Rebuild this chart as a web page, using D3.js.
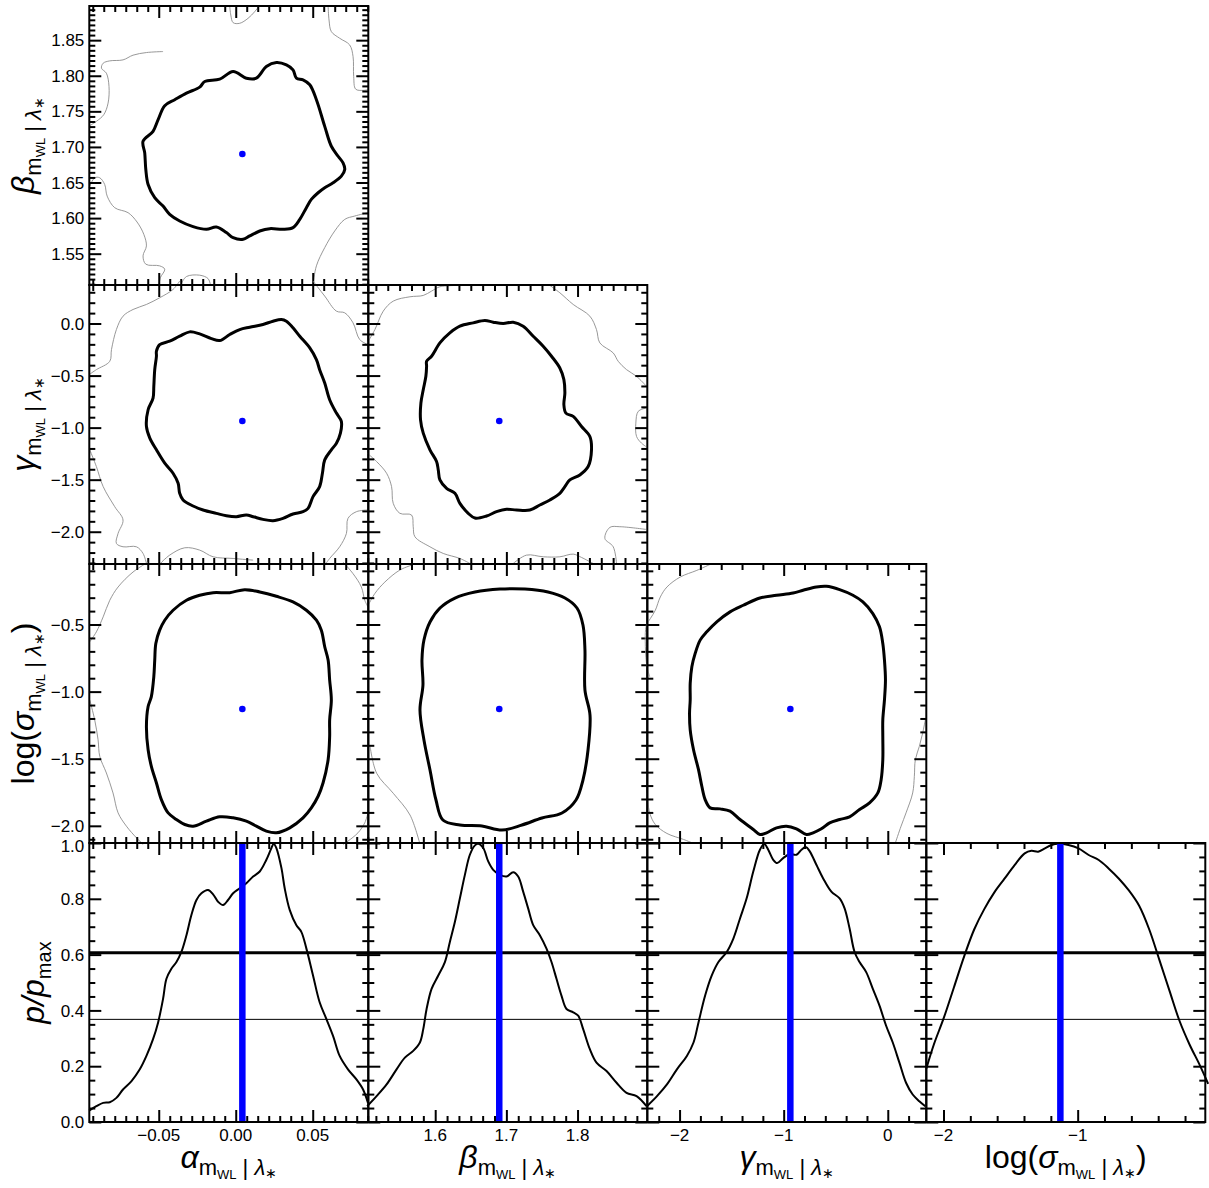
<!DOCTYPE html>
<html>
<head>
<meta charset="utf-8">
<script src="https://cdn.jsdelivr.net/npm/d3@7/dist/d3.min.js"></script>
<style>
html,body{margin:0;padding:0;background:#fff;}
svg{display:block;}
text{font-family:"Liberation Sans",Arial,Helvetica,sans-serif;white-space:pre;}
</style>
</head>
<body>
<svg id="chart" width="1209" height="1188"></svg>
<script>
// ---------------- data ----------------
const paramGreek = ["α", "β", "γ", "σ"];
const domainAlpha = [-0.0951, 0.0861];
const domainBeta = [1.506, 1.898];
const domainGamma = [-2.31, 0.37];
const domainLogSigma = [-2.128, -0.049];
const domainP = [0, 1];

const truthValues = [0.0043, 1.690, -0.936, -1.129];
const levelThick = Math.exp(-0.5);
const levelThin = Math.exp(-1);

const ticksAlphaX = [-0.05, 0, 0.05];
const labelsAlphaX = ["−0.05", "0.00", "0.05"];
const ticksBetaX = [1.6, 1.7, 1.8];
const labelsBetaX = ["1.6", "1.7", "1.8"];
const ticksBetaY = [1.55, 1.60, 1.65, 1.70, 1.75, 1.80, 1.85];
const labelsBetaY = ["1.55", "1.60", "1.65", "1.70", "1.75", "1.80", "1.85"];
const ticksGammaX = [-2, -1, 0];
const labelsGammaX = ["−2", "−1", "0"];
const ticksGammaY = [-2, -1.5, -1, -0.5, 0];
const labelsGammaY = ["−2.0", "−1.5", "−1.0", "−0.5", "0.0"];
const ticksLogSigmaX = [-2, -1];
const labelsLogSigmaX = ["−2", "−1"];
const ticksLogSigmaY = [-2, -1.5, -1, -0.5];
const labelsLogSigmaY = ["−2.0", "−1.5", "−1.0", "−0.5"];
const ticksP = [0, 0.2, 0.4, 0.6, 0.8, 1.0];
const labelsP = ["0.0", "0.2", "0.4", "0.6", "0.8", "1.0"];

// minor tick spacing per axis
const minorAlphaX = 0.05 / 7;
const minorBetaX = 0.1 / 6;
const minorBetaY = 0.05 / 7;
const minorGammaX = 0.2;
const minorGammaY = 0.1;
const minorLogSigmaX = 0.2;
const minorLogSigmaY = 0.1;
const minorP = 0.05;

// 2D contours (thick: main level, gray: outer level pieces)
const contourAlphaBeta = [[-0.0602,1.7079],[-0.0537,1.7219],[-0.0504,1.7383],[-0.0461,1.7579],[-0.0396,1.7663],[-0.0320,1.7756],[-0.0234,1.7840],[-0.0201,1.7920],[-0.0104,1.7952],[-0.0017,1.8060],[0.0069,1.7966],[0.0134,1.7966],[0.0199,1.8130],[0.0264,1.8186],[0.0329,1.8153],[0.0372,1.8083],[0.0394,1.7966],[0.0437,1.7943],[0.0481,1.7873],[0.0524,1.7663],[0.0578,1.7289],[0.0621,1.7009],[0.0665,1.6869],[0.0697,1.6776],[0.0708,1.6683],[0.0686,1.6589],[0.0632,1.6496],[0.0578,1.6426],[0.0535,1.6356],[0.0491,1.6262],[0.0459,1.6146],[0.0416,1.5982],[0.0372,1.5866],[0.0307,1.5842],[0.0221,1.5852],[0.0156,1.5819],[0.0091,1.5749],[0.0048,1.5702],[-0.0017,1.5725],[-0.0061,1.5796],[-0.0126,1.5875],[-0.0190,1.5842],[-0.0277,1.5880],[-0.0364,1.5959],[-0.0429,1.6052],[-0.0472,1.6169],[-0.0526,1.6286],[-0.0569,1.6472],[-0.0584,1.6683],[-0.0591,1.6916]];
const grayAlphaBeta = [
  [[-0.0948,1.7299],[-0.0905,1.7359],[-0.0857,1.7453],[-0.0829,1.7616],[-0.0823,1.7850],[-0.0840,1.8036],[-0.0872,1.8106],[-0.0861,1.8176],[-0.0818,1.8209],[-0.0732,1.8223],[-0.0667,1.8289],[-0.0580,1.8326],[-0.0472,1.8340]],
  [[-0.0039,1.8979],[-0.0032,1.8853],[-0.0017,1.8746],[0.0026,1.8737],[0.0080,1.8807],[0.0123,1.8900],[0.0152,1.8979]],
  [[0.0600,1.8979],[0.0606,1.8783],[0.0621,1.8620],[0.0675,1.8527],[0.0740,1.8433],[0.0762,1.8270],[0.0766,1.7990],[0.0779,1.7812],[0.0827,1.7794],[0.0859,1.7803]],
  [[-0.0952,1.6426],[-0.0916,1.6566],[-0.0883,1.6566],[-0.0851,1.6472],[-0.0835,1.6309],[-0.0786,1.6146],[-0.0699,1.6076],[-0.0641,1.5945],[-0.0597,1.5772],[-0.0580,1.5609],[-0.0602,1.5469],[-0.0584,1.5352],[-0.0494,1.5329],[-0.0461,1.5282],[-0.0489,1.5165],[-0.0498,1.5072]],
  [[0.0502,1.5072],[0.0524,1.5329],[0.0578,1.5585],[0.0643,1.5819],[0.0708,1.5982],[0.0773,1.6029],[0.0859,1.6076]],
  [[-0.0353,1.5081],[-0.0320,1.5179],[-0.0234,1.5198],[-0.0180,1.5151],[-0.0165,1.5072]]
];

const contourAlphaGamma = [[-0.0515,-0.2665],[-0.0494,-0.2022],[-0.0429,-0.1701],[-0.0364,-0.1220],[-0.0299,-0.0803],[-0.0234,-0.0995],[-0.0158,-0.1445],[-0.0104,-0.1637],[-0.0039,-0.1059],[0.0026,-0.0578],[0.0091,-0.0353],[0.0177,-0.0096],[0.0242,0.0225],[0.0297,0.0385],[0.0329,0.0225],[0.0372,-0.0417],[0.0416,-0.1220],[0.0481,-0.2343],[0.0524,-0.3467],[0.0545,-0.4430],[0.0578,-0.5714],[0.0610,-0.7319],[0.0654,-0.8604],[0.0686,-0.9406],[0.0680,-1.0530],[0.0654,-1.1493],[0.0621,-1.2135],[0.0578,-1.3098],[0.0563,-1.4382],[0.0545,-1.5666],[0.0502,-1.6629],[0.0470,-1.7753],[0.0437,-1.8074],[0.0372,-1.8299],[0.0307,-1.8716],[0.0242,-1.8941],[0.0177,-1.8812],[0.0113,-1.8555],[0.0069,-1.8395],[0.0004,-1.8555],[-0.0061,-1.8459],[-0.0126,-1.8234],[-0.0212,-1.7913],[-0.0277,-1.7528],[-0.0342,-1.6950],[-0.0364,-1.6308],[-0.0374,-1.5345],[-0.0407,-1.4382],[-0.0461,-1.3419],[-0.0515,-1.2135],[-0.0558,-1.1011],[-0.0580,-0.9888],[-0.0569,-0.8283],[-0.0537,-0.7159],[-0.0532,-0.6035],[-0.0526,-0.4430],[-0.0515,-0.3146]];
const grayAlphaGamma = [
  [[-0.0364,0.4077],[-0.0407,0.3274],[-0.0494,0.2472],[-0.0580,0.1830],[-0.0667,0.1348],[-0.0732,0.0706],[-0.0775,-0.0578],[-0.0807,-0.2504],[-0.0818,-0.3628],[-0.0905,-0.4430],[-0.0952,-0.4912]],
  [[0.0502,0.4077],[0.0578,0.2632],[0.0654,0.1188],[0.0708,0.1027],[0.0762,0.0064],[0.0805,-0.1541],[0.0859,-0.2022]],
  [[-0.0948,-1.2135],[-0.0905,-1.3740],[-0.0861,-1.5666],[-0.0786,-1.7592],[-0.0732,-1.8876],[-0.0764,-2.0161],[-0.0775,-2.1124],[-0.0732,-2.1445],[-0.0645,-2.1445],[-0.0602,-2.2087],[-0.0580,-2.3050]],
  [[-0.0494,-2.3114],[-0.0429,-2.2247],[-0.0331,-2.1541],[-0.0234,-2.1766],[-0.0147,-2.2408],[-0.0017,-2.2568],[0.0113,-2.2729]],
  [[0.0859,-1.7913],[0.0784,-1.8074],[0.0729,-1.8716],[0.0719,-2.0161],[0.0675,-2.1445],[0.0610,-2.2568],[0.0578,-2.3210]]
];

const contourBetaGamma = [[1.5879,-0.3628],[1.5949,-0.3146],[1.6066,-0.1862],[1.6206,-0.0899],[1.6347,-0.0257],[1.6534,0.0064],[1.6698,0.0289],[1.6815,0.0128],[1.6956,0.0],[1.7096,0.0128],[1.7236,-0.0257],[1.7377,-0.1220],[1.7517,-0.2183],[1.7634,-0.3146],[1.7751,-0.4270],[1.7808,-0.5393],[1.7822,-0.6677],[1.7808,-0.7801],[1.7836,-0.8604],[1.7939,-0.8925],[1.8056,-0.9888],[1.8173,-1.0851],[1.8196,-1.2135],[1.8149,-1.3740],[1.8032,-1.4543],[1.7892,-1.5024],[1.7822,-1.5666],[1.7751,-1.6308],[1.7611,-1.6950],[1.7470,-1.7432],[1.7330,-1.7913],[1.7143,-1.7913],[1.7002,-1.7849],[1.6862,-1.8074],[1.6721,-1.8491],[1.6558,-1.8684],[1.6464,-1.8234],[1.6347,-1.7271],[1.6277,-1.6308],[1.6160,-1.5827],[1.6066,-1.5024],[1.6043,-1.4061],[1.6019,-1.3258],[1.5926,-1.2135],[1.5832,-1.0530],[1.5794,-0.9246],[1.5799,-0.7640],[1.5832,-0.6356],[1.5869,-0.5072],[1.5879,-0.4109]];
const grayBetaGamma = [
  [[1.5045,-0.1862],[1.5153,-0.0578],[1.5270,0.1188],[1.5410,0.2151],[1.5645,0.2568],[1.5832,0.2697],[1.5949,0.3114],[1.6066,0.3531],[1.6441,0.3660]],
  [[1.7611,0.3660],[1.7751,0.2953],[1.7939,0.1830],[1.8173,0.0706],[1.8266,-0.0578],[1.8313,-0.1862],[1.8501,-0.2825],[1.8571,-0.3628],[1.8688,-0.4430],[1.8829,-0.5072],[1.8960,-0.5971]],
  [[1.8960,-0.8122],[1.8852,-0.8443],[1.8819,-0.9567],[1.8829,-1.0851],[1.8899,-1.1493],[1.8960,-1.1814]],
  [[1.5045,-1.2456],[1.5176,-1.3258],[1.5317,-1.4382],[1.5387,-1.5666],[1.5410,-1.7271],[1.5504,-1.8234],[1.5668,-1.8395],[1.5691,-1.9518],[1.5715,-2.0482],[1.5926,-2.1445],[1.6113,-2.2087],[1.6347,-2.2568],[1.6487,-2.3050]],
  [[1.7096,-2.3050],[1.7283,-2.2247],[1.7517,-2.2408],[1.7751,-2.2408],[1.7939,-2.2151],[1.8056,-2.2472],[1.8220,-2.3050]],
  [[1.8960,-1.9775],[1.8594,-1.9518],[1.8454,-1.9583],[1.8384,-2.0642],[1.8501,-2.1445],[1.8548,-2.3050]]
];

const contourAlphaLogSigma = [[-0.0580,-1.2599],[-0.0569,-1.1114],[-0.0548,-1.0371],[-0.0532,-0.8886],[-0.0526,-0.7649],[-0.0519,-0.6411],[-0.0494,-0.5421],[-0.0461,-0.4678],[-0.0407,-0.3936],[-0.0320,-0.3193],[-0.0234,-0.2822],[-0.0147,-0.2624],[-0.0039,-0.2624],[0.0058,-0.2401],[0.0156,-0.2574],[0.0264,-0.2896],[0.0372,-0.3317],[0.0459,-0.3936],[0.0524,-0.4678],[0.0556,-0.5421],[0.0578,-0.6658],[0.0600,-0.7649],[0.0610,-0.9134],[0.0621,-1.0619],[0.0610,-1.2104],[0.0610,-1.3342],[0.0600,-1.5074],[0.0567,-1.6807],[0.0535,-1.7797],[0.0491,-1.8663],[0.0437,-1.9406],[0.0351,-2.0149],[0.0264,-2.0520],[0.0199,-2.0396],[0.0134,-2.0025],[0.0069,-1.9653],[-0.0017,-1.9406],[-0.0104,-1.9332],[-0.0190,-1.9653],[-0.0277,-2.0025],[-0.0331,-1.9901],[-0.0385,-1.9530],[-0.0439,-1.9035],[-0.0483,-1.8045],[-0.0515,-1.6807],[-0.0548,-1.5569],[-0.0569,-1.4332]];
const grayAlphaLogSigma = [
  [[-0.0569,-0.0347],[-0.0667,-0.1089],[-0.0764,-0.2203],[-0.0818,-0.3193],[-0.0861,-0.4431],[-0.0905,-0.5545],[-0.0948,-0.6287]],
  [[-0.0948,-1.0619],[-0.0916,-1.2104],[-0.0894,-1.3589],[-0.0883,-1.4827],[-0.0840,-1.6064],[-0.0797,-1.7550],[-0.0764,-1.9035],[-0.0710,-2.0025],[-0.0645,-2.0891],[-0.0602,-2.1386]],
  [[0.0697,-0.0347],[0.0762,-0.1213],[0.0816,-0.2203],[0.0838,-0.3193],[0.0859,-0.3688]],
  [[0.0859,-1.9035],[0.0838,-1.9777],[0.0794,-2.0520],[0.0729,-2.1139],[0.0697,-2.1386]]
];

const contourBetaLogSigma = [[1.5814,-0.7645],[1.5842,-0.6155],[1.5927,-0.4814],[1.6067,-0.3770],[1.6278,-0.3025],[1.6559,-0.2578],[1.6910,-0.2355],[1.7261,-0.2355],[1.7585,-0.2578],[1.7823,-0.3025],[1.7992,-0.3770],[1.8076,-0.5037],[1.8104,-0.6900],[1.8104,-0.9881],[1.8175,-1.1744],[1.8147,-1.4352],[1.8076,-1.6587],[1.7978,-1.8077],[1.7781,-1.9046],[1.7500,-1.9419],[1.7219,-1.9940],[1.6938,-2.0313],[1.6656,-2.0015],[1.6347,-1.9940],[1.6108,-1.9568],[1.6011,-1.8077],[1.5927,-1.5842],[1.5842,-1.3607],[1.5786,-1.1371],[1.5828,-0.9508]];
const grayBetaLogSigma = [
  [[1.5060,-0.3547],[1.5154,-0.2675],[1.5293,-0.1833],[1.5504,-0.0939],[1.5716,-0.0492]],
  [[1.5086,-1.4106],[1.5178,-1.6088],[1.5411,-1.7578],[1.5646,-1.9195],[1.5785,-2.1356]]
];

const contourGammaLogSigma = [[-1.8979,-1.0619],[-1.8979,-0.9381],[-1.8820,-0.8144],[-1.8501,-0.7153],[-1.8022,-0.6163],[-1.7384,-0.5545],[-1.6427,-0.4802],[-1.5152,-0.4059],[-1.3876,-0.3564],[-1.2281,-0.3020],[-1.0686,-0.2822],[-0.9091,-0.2649],[-0.8134,-0.2450],[-0.6858,-0.2203],[-0.5901,-0.2153],[-0.4625,-0.2401],[-0.3349,-0.2822],[-0.2392,-0.3317],[-0.1435,-0.4183],[-0.0797,-0.5173],[-0.0478,-0.6411],[-0.0319,-0.7649],[-0.0223,-0.9134],[-0.0319,-1.0619],[-0.0478,-1.2104],[-0.0478,-1.3342],[-0.0478,-1.5074],[-0.0638,-1.6559],[-0.0957,-1.7550],[-0.1754,-1.8292],[-0.2711,-1.8787],[-0.3668,-1.9332],[-0.4625,-1.9530],[-0.5582,-1.9777],[-0.6380,-2.0223],[-0.7177,-2.0520],[-0.7815,-2.0644],[-0.8772,-2.0223],[-0.9729,-2.0025],[-1.0686,-2.0149],[-1.1643,-2.0520],[-1.2281,-2.0644],[-1.2919,-2.0272],[-1.4195,-1.9530],[-1.5152,-1.8911],[-1.6108,-1.8738],[-1.7065,-1.8663],[-1.7544,-1.8045],[-1.7863,-1.7054],[-1.8182,-1.5817],[-1.8660,-1.4332],[-1.8979,-1.2847],[-1.9043,-1.1609]];
const grayGammaLogSigma = [
  [[-1.7065,-0.0520],[-1.8341,-0.0965],[-1.9936,-0.1460],[-2.1212,-0.2203],[-2.1850,-0.2946],[-2.2329,-0.3936],[-2.2807,-0.4554],[-2.3190,-0.5050],[-2.3285,-0.6658],[-2.3126,-0.8144],[-2.2871,-0.8886]],
  [[0.3604,-1.2104],[0.3349,-1.3094],[0.3030,-1.4084],[0.2648,-1.5074],[0.2552,-1.6312],[0.2392,-1.7550],[0.1754,-1.9035],[0.1276,-2.0025],[0.0734,-2.1262]],
  [[-2.3126,-1.7550],[-2.2871,-1.9035],[-2.2329,-1.9901],[-2.1212,-2.0569],[-1.9617,-2.1015],[-1.8660,-2.1312]]
];

// 1D profiles p/pmax
const profileAlpha = [[-0.0952,0.0409],[-0.0905,0.0565],[-0.0861,0.0685],[-0.0818,0.0709],[-0.0775,0.0865],[-0.0732,0.1166],[-0.0677,0.1466],[-0.0623,0.1887],[-0.0580,0.2368],[-0.0537,0.2969],[-0.0504,0.3570],[-0.0472,0.4411],[-0.0450,0.5132],[-0.0418,0.5493],[-0.0385,0.5733],[-0.0353,0.6094],[-0.0320,0.6695],[-0.0288,0.7416],[-0.0255,0.7957],[-0.0223,0.8197],[-0.0180,0.8317],[-0.0147,0.8161],[-0.0115,0.7897],[-0.0082,0.7776],[-0.0050,0.7957],[-0.0017,0.8197],[0.0026,0.8377],[0.0069,0.8558],[0.0113,0.8798],[0.0156,0.8978],[0.0199,0.9399],[0.0232,0.9820],[0.0247,0.9976],[0.0264,0.9820],[0.0297,0.9099],[0.0318,0.8377],[0.0351,0.7596],[0.0394,0.7055],[0.0426,0.6815],[0.0459,0.6214],[0.0502,0.5252],[0.0545,0.4291],[0.0589,0.3690],[0.0632,0.3089],[0.0675,0.2368],[0.0729,0.1887],[0.0784,0.1526],[0.0827,0.1166],[0.0859,0.0685]];
const profileBeta = [[1.5045,0.0565],[1.5176,0.0925],[1.5317,0.1346],[1.5457,0.1887],[1.5574,0.2308],[1.5691,0.2548],[1.5785,0.2849],[1.5832,0.3329],[1.5879,0.4050],[1.5949,0.4772],[1.6043,0.5252],[1.6136,0.5733],[1.6206,0.6454],[1.6277,0.7175],[1.6347,0.8017],[1.6417,0.8858],[1.6487,0.9579],[1.6558,0.9916],[1.6604,0.9976],[1.6675,0.9820],[1.6745,0.9339],[1.6815,0.9038],[1.6909,0.8858],[1.7002,0.8798],[1.7096,0.8954],[1.7166,0.8798],[1.7236,0.8257],[1.7306,0.7656],[1.7377,0.7055],[1.7470,0.6695],[1.7564,0.6214],[1.7634,0.5733],[1.7704,0.5132],[1.7774,0.4531],[1.7845,0.4050],[1.7939,0.3930],[1.8009,0.3810],[1.8079,0.3329],[1.8173,0.2608],[1.8266,0.2127],[1.8407,0.1827],[1.8548,0.1406],[1.8688,0.1046],[1.8829,0.0925],[1.8969,0.0565]];
const profileGamma = [[-2.3126,0.0565],[-2.2169,0.0925],[-2.1212,0.1346],[-2.0255,0.1887],[-1.9298,0.2368],[-1.8660,0.2849],[-1.8182,0.3570],[-1.7544,0.4531],[-1.6906,0.5252],[-1.6268,0.5733],[-1.5470,0.6094],[-1.4833,0.6575],[-1.4195,0.7296],[-1.3557,0.8017],[-1.2919,0.8978],[-1.2281,0.9760],[-1.1866,0.9964],[-1.1483,0.9760],[-1.1005,0.9399],[-1.0622,0.9279],[-1.0048,0.9459],[-0.9410,0.9603],[-0.8772,0.9579],[-0.8293,0.9760],[-0.7879,0.9856],[-0.7496,0.9700],[-0.6858,0.9219],[-0.6220,0.8738],[-0.5423,0.8257],[-0.4625,0.8017],[-0.4147,0.7656],[-0.3668,0.6935],[-0.3190,0.6094],[-0.2711,0.5733],[-0.2073,0.5373],[-0.1435,0.4772],[-0.0797,0.4171],[-0.0159,0.3450],[0.0478,0.2849],[0.1116,0.2127],[0.1754,0.1406],[0.2392,0.0986],[0.3030,0.0745],[0.3604,0.0565]];
const profileLogSigma = [[-2.1276,0.192],[-2.0723,0.277],[-1.9970,0.374],[-1.9218,0.483],[-1.8465,0.593],[-1.7713,0.690],[-1.6960,0.763],[-1.6208,0.823],[-1.5454,0.872],[-1.4701,0.921],[-1.3949,0.963],[-1.3447,0.972],[-1.2945,0.969],[-1.2443,0.981],[-1.1942,0.993],[-1.1440,0.997],[-1.0687,0.993],[-0.9935,0.981],[-0.9182,0.957],[-0.8430,0.939],[-0.7677,0.908],[-0.6925,0.872],[-0.6172,0.829],[-0.5419,0.775],[-0.4666,0.690],[-0.3913,0.581],[-0.3161,0.471],[-0.2408,0.362],[-0.1656,0.277],[-0.0903,0.204],[-0.0276,0.137]];

// ---------------- layout ----------------
const X0 = 89.3, Y0 = 6, CELL = 279;
const MAJ = 12, MIN = 6;
const svg = d3.select("#chart");

const colAxes = [
  {domain: domainAlpha, major: ticksAlphaX, labels: labelsAlphaX, minor: minorAlphaX},
  {domain: domainBeta, major: ticksBetaX, labels: labelsBetaX, minor: minorBetaX},
  {domain: domainGamma, major: ticksGammaX, labels: labelsGammaX, minor: minorGammaX},
  {domain: domainLogSigma, major: ticksLogSigmaX, labels: labelsLogSigmaX, minor: minorLogSigmaX}
];
const rowAxes = [
  {domain: domainBeta, major: ticksBetaY, labels: labelsBetaY, minor: minorBetaY},
  {domain: domainGamma, major: ticksGammaY, labels: labelsGammaY, minor: minorGammaY},
  {domain: domainLogSigma, major: ticksLogSigmaY, labels: labelsLogSigmaY, minor: minorLogSigmaY},
  {domain: domainP, major: ticksP, labels: labelsP, minor: minorP}
];
const contours2D = {
  "0-0": [contourAlphaBeta, grayAlphaBeta],
  "1-0": [contourAlphaGamma, grayAlphaGamma],
  "1-1": [contourBetaGamma, grayBetaGamma],
  "2-0": [contourAlphaLogSigma, grayAlphaLogSigma],
  "2-1": [contourBetaLogSigma, grayBetaLogSigma],
  "2-2": [contourGammaLogSigma, grayGammaLogSigma]
};
const profiles = [profileAlpha, profileBeta, profileGamma, profileLogSigma];

function minorValues(cfg) {
  const s = cfg.minor, out = [];
  const i0 = Math.ceil(cfg.domain[0] / s - 1e-6), i1 = Math.floor(cfg.domain[1] / s + 1e-6);
  for (let i = i0; i <= i1; i++) {
    const v = i * s;
    if (!cfg.major.some(m => Math.abs(m - v) < s * 0.2)) out.push(v);
  }
  return out;
}

function drawFrame(g, xs, ys, xc, yc) {
  const specs = [
    [d3.axisBottom, xs, xc, `translate(0,${CELL})`],
    [d3.axisTop, xs, xc, null],
    [d3.axisLeft, ys, yc, null],
    [d3.axisRight, ys, yc, `translate(${CELL},0)`]
  ];
  specs.forEach(([fn, sc, cfg, tr]) => {
    [[cfg.major, MAJ], [minorValues(cfg), MIN]].forEach(([vals, len]) => {
      const a = g.append("g").attr("class", "ax")
        .call(fn(sc).tickValues(vals).tickSizeInner(-len).tickSizeOuter(0).tickFormat(""));
      if (tr) a.attr("transform", tr);
      a.select(".domain").remove();
      a.selectAll("line").attr("stroke", "#000").attr("stroke-width", 2);
      a.selectAll("text").remove();
    });
  });
  g.append("rect").attr("x", 0).attr("y", 0).attr("width", CELL).attr("height", CELL)
    .attr("fill", "none").attr("stroke", "#000").attr("stroke-width", 2);
}

const closedLine = (xs, ys) => d3.line().x(d => xs(d[0])).y(d => ys(d[1])).curve(d3.curveCatmullRomClosed.alpha(0.5));
const openLine = (xs, ys) => d3.line().x(d => xs(d[0])).y(d => ys(d[1])).curve(d3.curveCatmullRom.alpha(0.5));

// 2D panels
for (let r = 0; r < 3; r++) {
  for (let c = 0; c <= r; c++) {
    const g = svg.append("g").attr("transform", `translate(${X0 + c * CELL},${Y0 + r * CELL})`);
    const xs = d3.scaleLinear().domain(colAxes[c].domain).range([0, CELL]);
    const ys = d3.scaleLinear().domain(rowAxes[r].domain).range([CELL, 0]);
    const [main, grays] = contours2D[`${r}-${c}`];
    grays.forEach(seg => g.append("path").attr("d", openLine(xs, ys)(seg))
      .attr("fill", "none").attr("stroke", "#8c8c8c").attr("stroke-width", 0.9));
    g.append("path").attr("d", closedLine(xs, ys)(main))
      .attr("fill", "none").attr("stroke", "#000").attr("stroke-width", 3).attr("stroke-linejoin", "round");
    g.append("circle").attr("cx", xs(truthValues[c])).attr("cy", ys(truthValues[r + 1])).attr("r", 3.3).attr("fill", "#0000ff");
    drawFrame(g, xs, ys, colAxes[c], rowAxes[r]);
  }
}

// 1D panels
for (let c = 0; c < 4; c++) {
  const g = svg.append("g").attr("transform", `translate(${X0 + c * CELL},${Y0 + 3 * CELL})`);
  const xs = d3.scaleLinear().domain(colAxes[c].domain).range([0, CELL]);
  const ys = d3.scaleLinear().domain(domainP).range([CELL, 0]);
  g.append("line").attr("x1", 0).attr("x2", CELL).attr("y1", ys(levelThin)).attr("y2", ys(levelThin))
    .attr("stroke", "#000").attr("stroke-width", 1);
  g.append("line").attr("x1", 0).attr("x2", CELL).attr("y1", ys(levelThick)).attr("y2", ys(levelThick))
    .attr("stroke", "#000").attr("stroke-width", 3);
  g.append("path").attr("d", openLine(xs, ys)(profiles[c]))
    .attr("fill", "none").attr("stroke", "#000").attr("stroke-width", 2);
  g.append("line").attr("x1", xs(truthValues[c])).attr("x2", xs(truthValues[c]))
    .attr("y1", ys(0)).attr("y2", ys(1)).attr("stroke", "#0000ff").attr("stroke-width", 6.5);
  drawFrame(g, xs, ys, colAxes[c], rowAxes[3]);
}

// tick labels
const FS = 17;
for (let c = 0; c < 4; c++) {
  const xs = d3.scaleLinear().domain(colAxes[c].domain).range([X0 + c * CELL, X0 + (c + 1) * CELL]);
  colAxes[c].major.forEach((v, i) => {
    svg.append("text").attr("x", xs(v)).attr("y", Y0 + 4 * CELL + 19)
      .attr("text-anchor", "middle").attr("font-size", FS).text(colAxes[c].labels[i]);
  });
}
for (let r = 0; r < 4; r++) {
  const top = Y0 + r * CELL;
  const ys = d3.scaleLinear().domain(rowAxes[r].domain).range([top + CELL, top]);
  rowAxes[r].major.forEach((v, i) => {
    const yc = Math.max(ys(v), top + 3);   // keep label inside its own row
    svg.append("text").attr("x", X0 - 5).attr("y", yc).attr("dy", "0.36em")
      .attr("text-anchor", "end").attr("font-size", FS).text(rowAxes[r].labels[i]);
  });
}

// axis titles
function addTitle(x, y, rotate, parts) {
  const t = svg.append("text")
    .attr("transform", `translate(${x},${y})` + (rotate ? " rotate(-90)" : ""))
    .attr("text-anchor", "middle").attr("fill", "#000");
  parts.forEach(p => t.append("tspan").text(p[0]).attr("font-size", p[1])
    .attr("font-style", p[2] ? "italic" : "normal").attr("dy", p[3]));
}
function paramTitle(i) {
  const sub = [["m", 22, false, 7], ["WL", 13, false, 4], [" | ", 22, false, -4], ["λ", 22, true, 0], ["∗", 14, false, 3]];
  if (i === 3) return [["log(", 32, false, 0], [paramGreek[3], 32, true, 0], ...sub, [")", 32, false, -10]];
  return [[paramGreek[i], 32, true, 0], ...sub];
}
for (let c = 0; c < 4; c++) addTitle(X0 + (c + 0.5) * CELL, 1168, false, paramTitle(c));
for (let r = 0; r < 3; r++) addTitle(34, Y0 + (r + 0.5) * CELL, true, paramTitle(r + 1));
addTitle(44, Y0 + 3.5 * CELL, true, [["p/p", 32, true, 0], ["max", 20, false, 7]]);
</script>
</body>
</html>
